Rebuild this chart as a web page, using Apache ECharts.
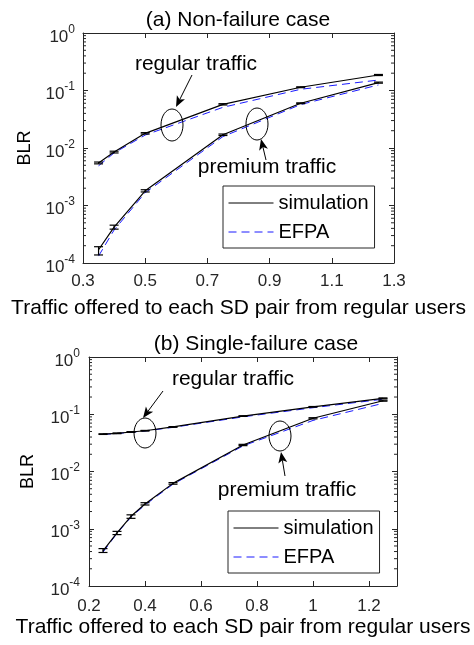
<!DOCTYPE html>
<html><head><meta charset="utf-8">
<script src="https://cdn.jsdelivr.net/npm/echarts@6/dist/echarts.min.js"></script>
<style>html,body{margin:0;padding:0;background:#fff}#c{width:474px;height:645px}</style>
</head><body><div id="c"></div>
<script>
// ---------- data: (a) Non-failure case ----------
const xA = [0.35, 0.4, 0.5, 0.75, 1.0, 1.25];
const simRegA = [5.5e-3, 8.5e-3, 0.018, 0.0575, 0.114, 0.186];
const simRegLowA = [5.3e-3, 8.2e-3, 0.0175, 0.056, 0.112, 0.182];
const simRegHighA = [5.7e-3, 8.8e-3, 0.0185, 0.059, 0.116, 0.19];
const efpaRegA = [4.9e-3, 8.2e-3, 0.0168, 0.051, 0.105, 0.152];
const simPreA = [1.7e-4, 4.2e-4, 1.8e-3, 0.017, 0.06, 0.137];
const simPreLowA = [1.38e-4, 3.88e-4, 1.72e-3, 0.0165, 0.059, 0.134];
const simPreHighA = [1.92e-4, 4.55e-4, 1.88e-3, 0.0175, 0.061, 0.14];
const efpaPreA = [1.32e-4, 3.75e-4, 1.67e-3, 0.0158, 0.057, 0.125];

// ---------- data: (b) Single-failure case ----------
const xB = [0.25, 0.3, 0.35, 0.4, 0.5, 0.75, 1.0, 1.25];
const simRegB = [0.045, 0.0465, 0.049, 0.0515, 0.06, 0.093, 0.135, 0.19];
const simRegLowB = [0.0444, 0.0458, 0.0483, 0.0508, 0.0592, 0.0918, 0.1335, 0.187];
const simRegHighB = [0.0456, 0.0472, 0.0497, 0.0522, 0.0608, 0.0942, 0.1365, 0.193];
const efpaRegB = [0.0445, 0.046, 0.0485, 0.051, 0.059, 0.09, 0.13, 0.183];
const simPreB = [4.1e-4, 8.5e-4, 1.65e-3, 2.7e-3, 6.2e-3, 0.029, 0.085, 0.172];
const simPreLowB = [3.85e-4, 7.9e-4, 1.52e-3, 2.6e-3, 6.0e-3, 0.0283, 0.083, 0.169];
const simPreHighB = [4.5e-4, 9.0e-4, 1.75e-3, 2.85e-3, 6.4e-3, 0.0298, 0.087, 0.176];
const efpaPreB = [3.9e-4, 8.3e-4, 1.6e-3, 2.6e-3, 6.0e-3, 0.028, 0.078, 0.155];

// ---------- axes ----------
const xMinA = 0.3, xMaxA = 1.3, xStepA = 0.2;
const xMinB = 0.2, xMaxB = 1.3, xStepB = 0.2;
const yMin = 1e-4, yMax = 1;
const minorY = [];
for (let d = -4; d < 0; d++) for (let k = 2; k <= 9; k++) minorY.push(k * Math.pow(10, d));

const titles = ['(a) Non-failure case', '(b) Single-failure case'];
const xName = 'Traffic offered to each SD pair from regular users';
const yName = 'BLR';
const legendNames = ['simulation', 'EFPA'];
const annoRegular = 'regular traffic';
const annoPremium = 'premium traffic';

// ---------- styles ----------
const FONT = '"Liberation Sans", Arial, Helvetica, sans-serif';
const AX = '#262626';
const BLUE = '#1a1aff';

const zip = (xs, ys) => xs.map((x, i) => [x, ys[i]]);
const zip3 = (xs, lo, hi) => xs.map((x, i) => [x, lo[i], hi[i]]);

function logLabel(v) {
  const e = Math.round(Math.log10(v));
  return '{b|10}{e|' + e + '}';
}
const richY = {
  b: { fontSize: 17, fontFamily: FONT, color: AX, lineHeight: 17, verticalAlign: 'bottom' },
  e: { fontSize: 12, fontFamily: FONT, color: AX, lineHeight: 12, padding: [0, 0, 10, 0], verticalAlign: 'bottom' }
};

function xAx(gi, pos, min, max, step, labels, margin, gap) {
  const n = (max - min) / step;
  return {
    type: 'value', gridIndex: gi, position: pos, min: min, max: max, interval: step,
    axisLine: { show: true, onZero: false, lineStyle: { color: AX, width: 1 } },
    axisTick: { show: true, inside: true, length: 5, lineStyle: { color: AX } },
    splitLine: { show: false },
    axisLabel: { show: labels, margin: margin, color: AX, fontSize: 17, fontFamily: FONT,
      showMaxLabel: labels && Math.abs(n - Math.round(n)) < 1e-6 },
    name: labels ? xName : '', nameLocation: 'middle', nameGap: gap,
    nameTextStyle: { fontSize: 21, fontFamily: FONT, color: '#000' }
  };
}
function yAx(gi, pos, labels, margin, gap) {
  return {
    type: 'log', logBase: 10, gridIndex: gi, position: pos, min: yMin, max: yMax,
    axisLine: { show: true, lineStyle: { color: AX, width: 1 } },
    axisTick: { show: true, inside: true, length: 5, lineStyle: { color: AX } },
    splitLine: { show: false },
    axisLabel: { show: labels, margin: margin, formatter: logLabel, rich: richY, padding: [8, 0, 0, 0] },
    name: labels ? yName : '', nameLocation: 'middle', nameGap: gap, nameRotate: 90,
    nameTextStyle: { fontSize: 18, fontFamily: FONT, color: '#000' }
  };
}

function lineSeries(name, data, xi, yi, color, dashed, z) {
  return {
    type: 'line', name: name, data: data, xAxisIndex: xi, yAxisIndex: yi,
    symbol: 'none', showSymbol: false, smooth: false, z: z,
    lineStyle: { color: color, width: dashed ? 1 : 1.2, type: dashed ? [8, 5] : 'solid' },
    itemStyle: { color: color }, emphasis: { disabled: true }
  };
}
function errSeries(data, xi, yi) {
  return {
    type: 'custom', name: 'errorbar', xAxisIndex: xi, yAxisIndex: yi, data: data, z: 5, silent: true,
    encode: { x: 0, y: [1, 2] },
    renderItem: function (params, api) {
      const x = api.value(0), lo = api.value(1), hi = api.value(2);
      const p1 = api.coord([x, lo]), p2 = api.coord([x, hi]);
      const w = 4.5, st = { stroke: '#000', lineWidth: 1.2 };
      return { type: 'group', children: [
        { type: 'line', shape: { x1: p1[0], y1: p1[1], x2: p2[0], y2: p2[1] }, style: st },
        { type: 'line', shape: { x1: p1[0] - w, y1: p1[1], x2: p1[0] + w, y2: p1[1] }, style: st },
        { type: 'line', shape: { x1: p2[0] - w, y1: p2[1], x2: p2[0] + w, y2: p2[1] }, style: st }
      ] };
    }
  };
}
function minorSeries(xi, yi, xmin, xmax) {
  return {
    type: 'custom', name: 'minor', xAxisIndex: xi, yAxisIndex: yi, silent: true, z: 4,
    data: minorY.map(v => [xmin, v]), encode: { x: 0, y: 1 },
    renderItem: function (params, api) {
      const v = api.value(1);
      const pl = api.coord([xmin, v]), pr = api.coord([xmax, v]);
      const st = { stroke: AX, lineWidth: 1 };
      return { type: 'group', children: [
        { type: 'line', shape: { x1: pl[0], y1: pl[1], x2: pl[0] + 3, y2: pl[1] }, style: st },
        { type: 'line', shape: { x1: pr[0], y1: pr[1], x2: pr[0] - 3, y2: pr[1] }, style: st }
      ] };
    }
  };
}

// annotations (pixel layout)
function arrow(x1, y1, x2, y2) {
  const dx = x2 - x1, dy = y2 - y1, L = Math.hypot(dx, dy), ux = dx / L, uy = dy / L;
  const hl = 11, hw = 4.5, nx = -uy, ny = ux;
  const bx = x2 - ux * hl, by = y2 - uy * hl;
  const mx = x2 - ux * hl * 0.75, my = y2 - uy * hl * 0.75;
  return [
    { type: 'line', z: 100, shape: { x1: x1, y1: y1, x2: mx, y2: my }, style: { stroke: '#000', lineWidth: 1 } },
    { type: 'polygon', z: 100, shape: { points: [[x2, y2], [bx + nx * hw, by + ny * hw], [mx, my], [bx - nx * hw, by - ny * hw]] }, style: { fill: '#000' } }
  ];
}
function ell(cx, cy, rx, ry) {
  return { type: 'ellipse', z: 100, shape: { cx: cx, cy: cy, rx: rx, ry: ry }, style: { fill: 'none', stroke: '#000', lineWidth: 1 } };
}
function txt(s, x, y) {
  return { type: 'text', z: 100, x: x, y: y, style: { text: s, align: 'center', verticalAlign: 'middle', fontSize: 21, fontFamily: FONT, fill: '#000' } };
}

const chart = echarts.init(document.getElementById('c'));
const legendBase = {
  data: legendNames, orient: 'vertical', selectedMode: false,
  itemWidth: 45, itemHeight: 14, itemGap: 7,
  itemStyle: { color: 'rgba(0,0,0,0)', borderWidth: 0, opacity: 0 },
  lineStyle: { width: 1 },
  borderColor: AX, borderWidth: 1, backgroundColor: '#fff', borderRadius: 0,
  textStyle: { fontSize: 20, fontFamily: FONT, color: '#000', lineHeight: 22 }
};

chart.setOption({
  animation: false,
  backgroundColor: '#fff',
  title: [
    { text: titles[0], left: 238, top: 10, textAlign: 'center', padding: 0,
      textStyle: { fontSize: 21, fontWeight: 'normal', color: '#000', fontFamily: FONT } },
    { text: titles[1], left: 256, top: 334, textAlign: 'center', padding: 0,
      textStyle: { fontSize: 21, fontWeight: 'normal', color: '#000', fontFamily: FONT } }
  ],
  legend: [
    Object.assign({}, legendBase, { left: 223, top: 186, padding: [6, 6, 5, 5] }),
    Object.assign({}, legendBase, { left: 228, top: 511, padding: [6, 6, 5, 5] })
  ],
  grid: [
    { left: 83, right: 80, top: 33, height: 230 },
    { left: 89, right: 77, top: 357, height: 229 }
  ],
  xAxis: [
    xAx(0, 'bottom', xMinA, xMaxA, xStepA, true, 10, 35),
    xAx(0, 'top', xMinA, xMaxA, xStepA, false, 10, 0),
    xAx(1, 'bottom', xMinB, xMaxB, xStepB, true, 12, 31),
    xAx(1, 'top', xMinB, xMaxB, xStepB, false, 12, 0)
  ],
  yAxis: [
    yAx(0, 'left', true, 8, 49),
    yAx(0, 'right', false, 8, 0),
    yAx(1, 'left', true, 9, 52),
    yAx(1, 'right', false, 9, 0)
  ],
  series: [
    lineSeries('EFPA', zip(xA, efpaRegA), 0, 0, BLUE, true, 2),
    lineSeries('EFPA', zip(xA, efpaPreA), 0, 0, BLUE, true, 2),
    lineSeries('simulation', zip(xA, simRegA), 0, 0, '#000', false, 3),
    lineSeries('simulation', zip(xA, simPreA), 0, 0, '#000', false, 3),
    errSeries(zip3(xA, simRegLowA, simRegHighA), 0, 0),
    errSeries(zip3(xA, simPreLowA, simPreHighA), 0, 0),
    minorSeries(0, 0, xMinA, xMaxA),
    lineSeries('EFPA', zip(xB, efpaRegB), 2, 2, BLUE, true, 2),
    lineSeries('EFPA', zip(xB, efpaPreB), 2, 2, BLUE, true, 2),
    lineSeries('simulation', zip(xB, simRegB), 2, 2, '#000', false, 3),
    lineSeries('simulation', zip(xB, simPreB), 2, 2, '#000', false, 3),
    errSeries(zip3(xB, simRegLowB, simRegHighB), 2, 2),
    errSeries(zip3(xB, simPreLowB, simPreHighB), 2, 2),
    minorSeries(2, 2, xMinB, xMaxB)
  ],
  graphic: [].concat(
    [txt(annoRegular, 196, 64), txt(annoPremium, 267, 167), ell(172, 125, 11, 16), ell(257, 124, 11, 16)],
    arrow(192, 75, 176, 107), arrow(266, 160, 261, 139),
    [txt(annoRegular, 233, 379), txt(annoPremium, 287, 490), ell(145, 433, 11, 15), ell(280, 436, 11, 15)],
    arrow(163, 391, 143, 418), arrow(285, 476, 281, 452)
  )
});
</script></body></html>
